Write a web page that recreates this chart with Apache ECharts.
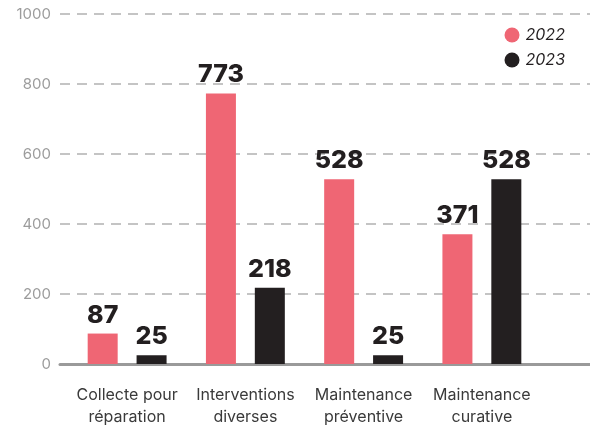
<!DOCTYPE html>
<html>
<head>
<meta charset="utf-8">
<script src="https://cdn.jsdelivr.net/npm/echarts@6/dist/echarts.min.js"></script>
<style>
  html, body { margin: 0; padding: 0; background: #fff; }
  #chart { width: 590px; height: 428px; }
</style>
</head>
<body>
<div id="chart"></div>
<script>
// Intervention counts per activity type, 2022 vs 2023
const categories = ['Collecte pour\nréparation', 'Interventions\ndiverses', 'Maintenance\npréventive', 'Maintenance\ncurative'];
const values2022 = [87, 773, 528, 371];
const values2023 = [25, 218, 25, 528];
const yTicks = [0, 200, 400, 600, 800, 1000];

const PINK = '#EF6674';
const DARK = '#231F20';
const FONT = 'Inter, "Noto Sans", sans-serif';

const chart = echarts.init(document.getElementById('chart'));

const barLabel = {
  show: true,
  position: 'top',
  distance: 6,
  color: '#231F20',
  fontFamily: FONT,
  fontWeight: 800,
  fontSize: 25
};

chart.setOption({
  animation: false,
  legend: {
    data: ['2022', '2023'],
    orient: 'vertical',
    right: 20,
    top: 22,
    icon: 'circle',
    itemWidth: 15,
    itemHeight: 15,
    itemGap: 9,
    textStyle: { fontFamily: FONT, fontStyle: 'italic', fontSize: 16, color: '#231F20', padding: [0, 0, 0, 1] }
  },
  grid: [
    // full-width grid carrying the value axis, gridlines and baseline
    { left: 60, right: 0, top: 14, bottom: 64 },
    // bar area
    { left: 68, right: 49, top: 14, bottom: 64 }
  ],
  xAxis: [
    {
      gridIndex: 0,
      type: 'value',
      min: 0, max: 1,
      axisLine: { show: true, lineStyle: { color: '#9a9a9a', width: 3 } },
      axisTick: { show: false },
      axisLabel: { show: false },
      splitLine: { show: false }
    },
    {
      gridIndex: 1,
      type: 'category',
      data: categories,
      axisLine: { show: false },
      axisTick: { show: false },
      axisLabel: {
        interval: 0,
        margin: 20,
        fontFamily: FONT,
        fontSize: 16,
        lineHeight: 22,
        color: '#3a3a3a'
      }
    }
  ],
  yAxis: [
    {
      gridIndex: 0,
      type: 'value',
      min: yTicks[0],
      max: yTicks[yTicks.length - 1],
      interval: yTicks[1] - yTicks[0],
      axisLine: { show: false },
      axisTick: { show: false },
      axisLabel: {
        margin: 9,
        fontFamily: FONT,
        fontSize: 15,
        color: '#9c9c9c',
        formatter: v => String(v)
      },
      splitLine: {
        show: true,
        lineStyle: { color: '#c4c4c4', width: 2, type: [10, 7] }
      }
    },
    {
      gridIndex: 1,
      type: 'value',
      min: yTicks[0],
      max: yTicks[yTicks.length - 1],
      interval: yTicks[1] - yTicks[0],
      show: false,
      splitLine: { show: false }
    }
  ],
  series: [
    {
      name: '2022',
      type: 'bar',
      xAxisIndex: 1,
      yAxisIndex: 1,
      data: values2022,
      barWidth: 30,
      barGap: '63%',
      itemStyle: { color: PINK },
      label: barLabel
    },
    {
      name: '2023',
      type: 'bar',
      xAxisIndex: 1,
      yAxisIndex: 1,
      data: values2023,
      barWidth: 30,
      barGap: '63%',
      itemStyle: { color: DARK },
      label: barLabel
    }
  ]
});
</script>
</body>
</html>
